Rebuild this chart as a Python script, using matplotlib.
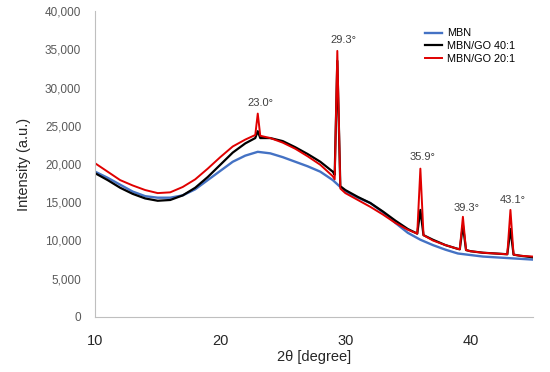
import matplotlib
matplotlib.use("Agg")
import matplotlib.pyplot as plt
from matplotlib.ticker import FuncFormatter

plt.rcParams['font.family'] = ['Liberation Sans', 'DejaVu Sans']

# 2theta positions and intensities
x_mbn = [10, 11, 12, 13, 14, 15, 16, 17, 18, 19, 20, 21, 22, 23, 24, 25, 26, 27, 28,
         29, 30, 31, 32, 33, 34, 35, 36, 37, 38, 39, 40, 41, 42, 43, 44, 45]
y_mbn = [19000, 18200, 17300, 16400, 15800, 15600, 15600, 15900, 16700, 17900, 19100,
         20300, 21100, 21600, 21400, 20900, 20300, 19700, 19000, 17900, 16400, 15600,
         14900, 13700, 12300, 11000, 10100, 9400, 8800, 8300, 8100, 7900, 7800, 7700,
         7600, 7500]

x_go40 = [10, 11, 12, 13, 14, 15, 16, 17, 18, 19, 20, 21, 22, 22.8, 23.0, 23.2, 24, 25,
          26, 27, 28, 29, 29.15, 29.36, 29.6, 30, 31, 32, 33, 34, 35, 35.75, 36.0, 36.25,
          37, 38, 39, 39.15, 39.4, 39.65, 40, 41, 42, 42.95, 43.2, 43.45, 44, 45]
y_go40 = [18800, 17900, 16900, 16100, 15500, 15200, 15300, 15900, 16900, 18300, 19900,
          21500, 22700, 23400, 24300, 23400, 23400, 23000, 22200, 21300, 20300, 19000,
          18600, 33500, 17100, 16600, 15700, 14900, 13800, 12600, 11500, 10900, 14000,
          10700, 10100, 9400, 8900, 8850, 12000, 8750, 8600, 8400, 8300, 8200,
          11500, 8150, 8000, 7800]

x_go20 = [10, 11, 12, 13, 14, 15, 16, 17, 18, 19, 20, 21, 22, 22.8, 23.0, 23.2, 24, 25,
          26, 27, 28, 29, 29.15, 29.36, 29.6, 30, 31, 32, 33, 34, 35, 35.75, 36.0, 36.25,
          37, 38, 39, 39.15, 39.4, 39.65, 40, 41, 42, 42.95, 43.2, 43.45, 44, 45]
y_go20 = [20100, 19000, 17900, 17200, 16600, 16200, 16300, 17000, 18000, 19400, 20900,
          22300, 23200, 23800, 26600, 23700, 23400, 22800, 22000, 21000, 19900, 18400,
          18000, 34800, 16800, 16200, 15300, 14400, 13400, 12300, 11400, 10900, 19400,
          10700, 10000, 9400, 8900, 8850, 13100, 8750, 8600, 8400, 8300, 8200,
          14000, 8150, 8000, 7900]

peak_labels = ["23.0°", "29.3°", "35.9°", "39.3°", "43.1°"]
label_x = [23.2, 29.85, 36.2, 39.7, 43.4]
label_y = [28000, 36200, 20900, 14300, 15300]

fig, ax = plt.subplots(figsize=(5.5, 3.72), dpi=100)
fig.subplots_adjust(left=0.173, right=0.969, bottom=0.148, top=0.970)

ax.plot(x_mbn, y_mbn, color='#4472C4', lw=1.7, label='MBN')
ax.plot(x_go40, y_go40, color='black', lw=1.6, label='MBN/GO 40:1')
ax.plot(x_go20, y_go20, color='#e00000', lw=1.4, label='MBN/GO 20:1')

for t, px, py in zip(peak_labels, label_x, label_y):
    ax.text(px, py, t, ha='center', va='center', fontsize=8, color='#404040')

ax.set_xlim(10, 45)
ax.set_ylim(0, 40000)
ax.set_xticks([10, 20, 30, 40])
ax.set_yticks(range(0, 40001, 5000))
ax.yaxis.set_major_formatter(FuncFormatter(lambda v, p: f"{int(v):,}"))
ax.tick_params(axis='y', length=0, labelsize=8.5, labelcolor='#595959', pad=10)
ax.tick_params(axis='x', length=0, labelsize=10.5, labelcolor='#262626', pad=12)

for s in ['top', 'right']:
    ax.spines[s].set_visible(False)
for s in ['left', 'bottom']:
    ax.spines[s].set_color('#bfbfbf')

ax.set_xlabel('2θ [degree]', fontsize=10.5, color='#262626', labelpad=2)
ax.set_ylabel('Intensity (a.u.)', fontsize=10.5, color='#262626', labelpad=10)

ax.legend(loc='upper left', bbox_to_anchor=(0.755, 0.95), bbox_transform=fig.transFigure,
          frameon=False, fontsize=7.8, handlelength=1.6, handletextpad=0.4,
          labelspacing=0.25)

fig.savefig('out.png', dpi=100)
